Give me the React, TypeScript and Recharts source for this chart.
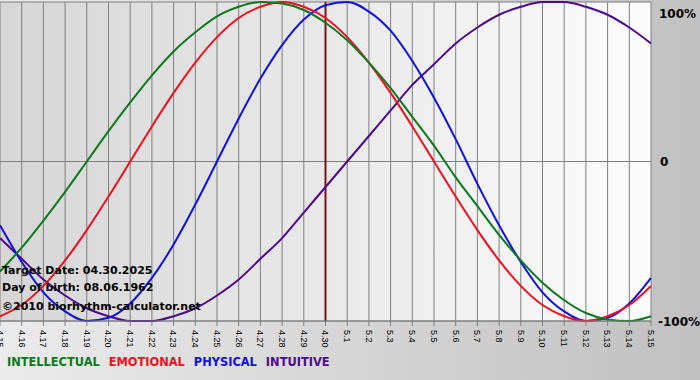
import React from "react";
import {
  LineChart,
  Line,
  XAxis,
  YAxis,
  CartesianGrid,
  ReferenceLine,
} from "recharts";

// dias de 15 abr a 15 mai
const days = [
  "4.15", "4.16", "4.17", "4.18", "4.19", "4.20", "4.21", "4.22", "4.23", "4.24",
  "4.25", "4.26", "4.27", "4.28", "4.29", "4.30", "5.1", "5.2", "5.3", "5.4",
  "5.5", "5.6", "5.7", "5.8", "5.9", "5.10", "5.11", "5.12", "5.13", "5.14", "5.15",
];

const physical = [
  -0.40, -0.63, -0.82, -0.94, -1.00, -0.98, -0.89, -0.73, -0.52, -0.27,
  0.00, 0.27, 0.52, 0.73, 0.89, 0.98, 1.00, 0.94, 0.82, 0.63,
  0.40, 0.14, -0.14, -0.40, -0.63, -0.82, -0.94, -1.00, -0.98, -0.89, -0.73,
];

const emotional = [
  -0.97, -0.90, -0.78, -0.62, -0.43, -0.22, 0.00, 0.22, 0.43, 0.62,
  0.78, 0.90, 0.97, 1.00, 0.97, 0.90, 0.78, 0.62, 0.43, 0.22,
  0.00, -0.22, -0.43, -0.62, -0.78, -0.90, -0.97, -1.00, -0.97, -0.90, -0.78,
];

const intellectual = [
  -0.69, -0.54, -0.37, -0.19, 0.00, 0.19, 0.37, 0.54, 0.69, 0.81,
  0.91, 0.97, 1.00, 0.99, 0.95, 0.87, 0.76, 0.62, 0.46, 0.28,
  0.10, -0.10, -0.28, -0.46, -0.62, -0.76, -0.87, -0.95, -0.99, -1.00, -0.97,
];

const intuitive = [
  -0.48, -0.61, -0.74, -0.84, -0.92, -0.97, -1.00, -1.00, -0.97, -0.92,
  -0.84, -0.74, -0.61, -0.48, -0.32, -0.16, 0.00, 0.16, 0.32, 0.48,
  0.61, 0.74, 0.84, 0.92, 0.97, 1.00, 1.00, 0.97, 0.92, 0.84, 0.74,
];

const yTicks = [-1, 0, 1];
const targetDay = "4.30";

const COLORS = {
  intellectual: "#0b7a1c",
  emotional: "#ee1020",
  physical: "#1010dd",
  intuitive: "#4c0a8c",
};

const data = days.map((d, i) => ({
  day: d,
  intellectual: intellectual[i],
  emotional: emotional[i],
  physical: physical[i],
  intuitive: intuitive[i],
}));

function DayTick({ x, y, payload }: any) {
  return (
    <g transform={`translate(${x},${y})`}>
      <text
        transform="rotate(90)"
        x={2}
        y={0}
        dy="0.35em"
        fontSize={9}
        fontFamily="'Liberation Sans', Arial, sans-serif"
        fill="#000"
        textAnchor="start"
      >
        {payload.value}
      </text>
    </g>
  );
}

function PercentTick({ x, y, payload }: any) {
  const v = payload.value;
  const label = v === 0 ? "0" : `${v * 100}%`;
  const shift = v === 1 ? 5 : v === 0 ? 0 : 1;
  return (
    <text
      x={x + (v === 0 ? 1 : v === 1 ? 0 : -1)}
      y={y + shift}
      dy="0.35em"
      fontSize={12}
      fontWeight="bold"
      fontFamily="'DejaVu Sans', Verdana, sans-serif"
      fill="#000"
      textAnchor="start"
    >
      {label}
    </text>
  );
}

const infoStyle: React.CSSProperties = {
  position: "absolute",
  left: 2,
  fontFamily: "'DejaVu Sans', Verdana, sans-serif",
  fontWeight: "bold",
  fontSize: 11,
  color: "#000",
  whiteSpace: "nowrap",
  lineHeight: "13px",
};

const legendItems = [
  { key: "intellectual", text: "INTELLECTUAL" },
  { key: "emotional", text: "EMOTIONAL" },
  { key: "physical", text: "PHYSICAL" },
  { key: "intuitive", text: "INTUITIVE" },
];

export default function App() {
  return (
    <div
      style={{
        position: "fixed",
        left: 0,
        top: 0,
        width: 700,
        height: 380,
        overflow: "hidden",
        background: "linear-gradient(to right, #ebebeb, #c0c0c0)",
      }}
    >
      <LineChart
        width={700}
        height={380}
        data={data}
        margin={{ top: 2, right: 1, left: 0, bottom: 0 }}
      >
        <defs>
          <linearGradient id="plotBg" x1="0" y1="0" x2="1" y2="0">
            <stop offset="0%" stopColor="#d6d6d6" />
            <stop offset="100%" stopColor="#fcfcfc" />
          </linearGradient>
        </defs>
        <CartesianGrid
          stroke="#7f7f7f"
          strokeWidth={1}
          fill="url(#plotBg)"
          fillOpacity={1}
        />
        <XAxis
          dataKey="day"
          interval={0}
          height={59}
          tick={<DayTick />}
          tickSize={5}
          tickLine={{ stroke: "#7f7f7f" }}
          axisLine={{ stroke: "#7f7f7f" }}
        />
        <YAxis
          orientation="right"
          domain={[-1, 1]}
          ticks={yTicks}
          width={48}
          axisLine={false}
          tickLine={false}
          tick={<PercentTick />}
        />
        <ReferenceLine x={targetDay} stroke="#7a1414" strokeWidth={2} />
        <Line
          type="monotone"
          dataKey="intuitive"
          stroke={COLORS.intuitive}
          strokeWidth={2}
          dot={false}
          isAnimationActive={false}
        />
        <Line
          type="monotone"
          dataKey="physical"
          stroke={COLORS.physical}
          strokeWidth={2}
          dot={false}
          isAnimationActive={false}
        />
        <Line
          type="monotone"
          dataKey="emotional"
          stroke={COLORS.emotional}
          strokeWidth={2}
          dot={false}
          isAnimationActive={false}
        />
        <Line
          type="monotone"
          dataKey="intellectual"
          stroke={COLORS.intellectual}
          strokeWidth={2}
          dot={false}
          isAnimationActive={false}
        />
      </LineChart>

      <div style={{ ...infoStyle, top: 264 }}>Target Date: 04.30.2025</div>
      <div style={{ ...infoStyle, top: 281 }}>Day of birth: 08.06.1962</div>
      <div style={{ ...infoStyle, top: 300 }}>©2010 biorhythm-calculator.net</div>

      <div
        style={{
          position: "absolute",
          left: 7,
          top: 355,
          display: "flex",
          gap: 9,
          fontFamily: "'DejaVu Sans', Verdana, sans-serif",
          fontWeight: "bold",
          fontSize: 11.4,
          whiteSpace: "nowrap",
        }}
      >
        {legendItems.map((it) => (
          <span key={it.key} style={{ color: (COLORS as any)[it.key] }}>
            {it.text}
          </span>
        ))}
      </div>
    </div>
  );
}
